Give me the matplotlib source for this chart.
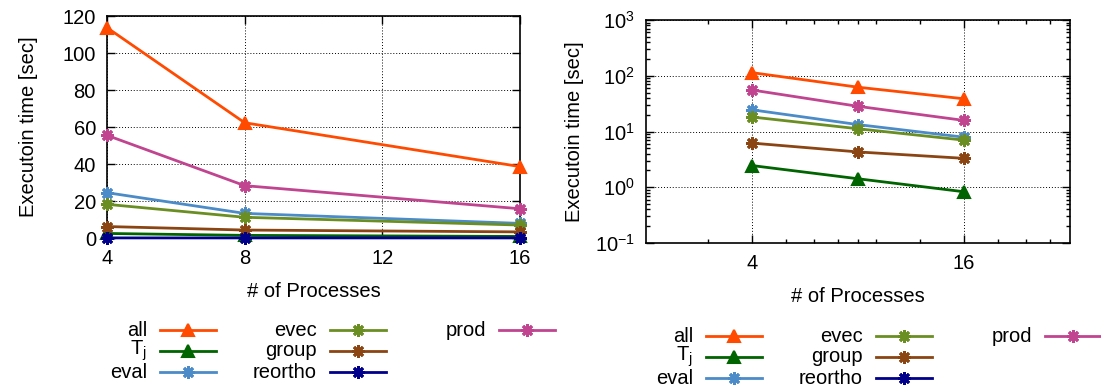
import matplotlib
matplotlib.use("Agg")
import matplotlib.pyplot as plt
from matplotlib.lines import Line2D
from matplotlib.ticker import FixedLocator, NullFormatter, LogLocator, FixedFormatter

plt.rcParams['font.family'] = ['Liberation Sans', 'DejaVu Sans']
plt.rcParams['mathtext.fontset'] = 'custom'
plt.rcParams['mathtext.rm'] = 'Liberation Sans'
plt.rcParams['mathtext.it'] = 'Liberation Sans'
plt.rcParams['mathtext.default'] = 'regular'

# ---------------- data ----------------
processes = [4, 8, 16]
series_names = ['all', 'T$_{j}$', 'eval', 'evec', 'group', 'reortho', 'prod']
all_t = [113.7, 62.3, 38.6]
tj_t = [2.45, 1.42, 0.83]
eval_t = [24.5, 13.3, 7.9]
evec_t = [18.2, 11.2, 7.0]
group_t = [6.2, 4.3, 3.3]
reortho_t = [0.05, 0.04, 0.03]
prod_t = [55.5, 28.3, 15.8]
series_values = [all_t, tj_t, eval_t, evec_t, group_t, reortho_t, prod_t]
series_colors = ['#ff4a00', '#006400', '#4b8bc8', '#6b8e23', '#8b4513', '#00008b', '#c0448f']
series_markers = ['tri', 'tri', 'ast', 'ast', 'ast', 'ast', 'ast']

left_xticks = [4, 8, 12, 16]
left_yticks = [0, 20, 40, 60, 80, 100, 120]
right_xticks = [4, 16]
right_xminor = [3, 5, 6, 7, 8, 9, 12, 20, 24, 28]
right_yticks = [0.1, 1, 10, 100, 1000]
right_ylabels = ['10$^{-1}$', '10$^{0}$', '10$^{1}$', '10$^{2}$', '10$^{3}$']

W, H = 1101, 388
FS = 14.5
fig = plt.figure(figsize=(W / 100, H / 100), dpi=100)


def px_rect(x0, y0, x1, y1):
    return [x0 / W, 1 - y1 / H, (x1 - x0) / W, (y1 - y0) / H]


def mstyle(kind, color):
    if kind == 'tri':
        return dict(marker='^', markersize=9, markerfacecolor=color,
                    markeredgecolor=color, markeredgewidth=1.5)
    return dict(marker=(8, 2, 0), markersize=9, markeredgecolor=color,
                markeredgewidth=2.0)


def style_axes(ax):
    for s in ax.spines.values():
        s.set_linewidth(1.2)
        s.set_color('black')
    ax.tick_params(which='major', direction='in', length=6, width=1,
                   top=True, right=True, labelsize=FS, pad=8)
    ax.tick_params(which='minor', direction='in', length=3, width=1,
                   top=True, right=True)
    ax.grid(True, which='major', color='black', linestyle=(0, (1, 2)), linewidth=0.7)
    ax.set_axisbelow(True)


# ---------------- left (linear) ----------------
axL = fig.add_axes(px_rect(107, 16, 520, 238))
for vals, col, mk in zip(series_values, series_colors, series_markers):
    axL.plot(processes, vals, color=col, lw=2, clip_on=False, zorder=3, **mstyle(mk, col))
axL.set_xlim(4, 16)
axL.set_ylim(0, 120)
axL.set_xticks(left_xticks)
axL.set_yticks(left_yticks)
style_axes(axL)
axL.set_xlabel('# of Processes', fontsize=FS, labelpad=10)
axL.set_ylabel('Executoin time [sec]', fontsize=FS, labelpad=18)

# ---------------- right (log) ----------------
axR = fig.add_axes(px_rect(646, 20, 1070, 243))
for vals, col, mk in zip(series_values, series_colors, series_markers):
    axR.plot(processes, vals, color=col, lw=2, zorder=3, **mstyle(mk, col))
axR.set_xscale('log', base=2)
axR.set_yscale('log')
axR.set_xlim(2, 32)
axR.set_ylim(0.1, 1000)
axR.xaxis.set_major_locator(FixedLocator(right_xticks))
axR.xaxis.set_major_formatter(FixedFormatter([str(v) for v in right_xticks]))
axR.xaxis.set_minor_locator(FixedLocator(right_xminor))
axR.xaxis.set_minor_formatter(NullFormatter())
axR.yaxis.set_major_locator(FixedLocator(right_yticks))
axR.yaxis.set_major_formatter(FixedFormatter(right_ylabels))
axR.yaxis.set_minor_locator(LogLocator(base=10, subs=range(2, 10), numticks=20))
axR.yaxis.set_minor_formatter(NullFormatter())
style_axes(axR)
axR.set_xlabel('# of Processes', fontsize=FS, labelpad=10)
axR.set_ylabel('Executoin time [sec]', fontsize=FS, labelpad=8)


# ---------------- legends (gnuplot style, text left of sample) ----------------
def draw_legend(col_x, row_y):
    for i, (name, col, mk) in enumerate(zip(series_names, series_colors, series_markers)):
        c, r = divmod(i, 3)
        tx, ty = col_x[c], row_y[r]
        fig.text(tx / W, 1 - ty / H, name, ha='right', va='center', fontsize=FS)
        x0, x1 = tx + 13, tx + 69
        xs = [x0 / W, (x0 + x1) / 2 / W, x1 / W]
        ys = [1 - ty / H] * 3
        ln = Line2D(xs, ys, transform=fig.transFigure, color=col, lw=2,
                    markevery=[1], **mstyle(mk, col))
        fig.add_artist(ln)


draw_legend([147, 317, 486], [330, 351, 372])
draw_legend([693, 863, 1032], [336, 357, 378])

fig.savefig('out.png', dpi=100)
